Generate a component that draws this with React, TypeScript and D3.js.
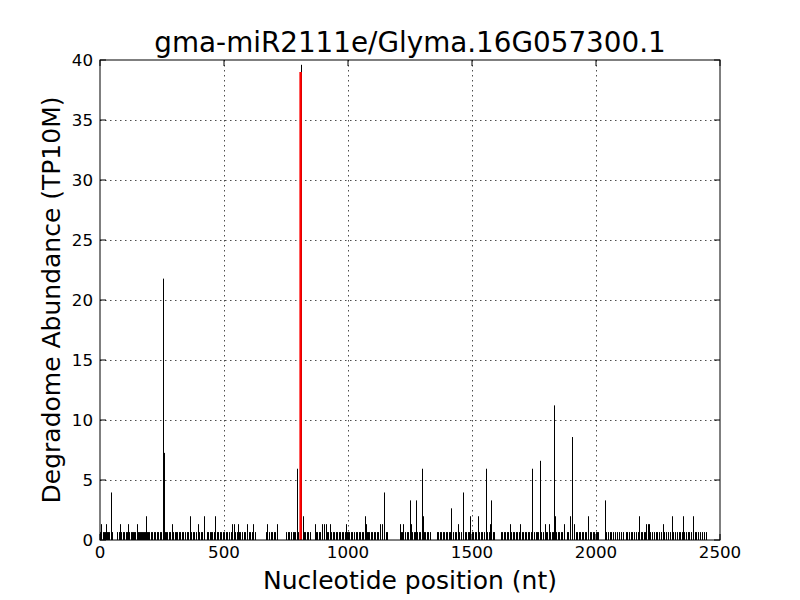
import React from "react";
import * as d3 from "d3";

const WIDTH = 800;
const HEIGHT = 600;
const MARGIN = { top: 60, right: 80, bottom: 60, left: 100 };

const TITLE = "gma-miR2111e/Glyma.16G057300.1";
const X_LABEL = "Nucleotide position (nt)";
const Y_LABEL = "Degradome Abundance (TP10M)";
const X_TICKS = [0, 500, 1000, 1500, 2000, 2500];
const Y_TICKS = [0, 5, 10, 15, 20, 25, 30, 35, 40];

// positions read at the lowest level (0.66 TP10M)
const BASE_VALUE = 0.66;
const basePositions = [
  2, 6, 11, 15, 19, 24, 28, 33, 38, 46, 50,
  70, 76, 81, 86, 93, 98, 103, 108, 118, 124, 129, 134, 139, 143, 148, 152, 157, 161, 165, 169,
  173, 177, 181, 188, 192, 198, 205, 211, 216, 222, 228, 234, 240, 246,
  262, 267, 272, 278, 284, 296, 301, 306, 312, 318, 324, 330, 336, 343, 349, 356, 368, 374, 380, 387, 399,
  407, 413, 430, 436, 442, 448, 453, 458, 470, 476, 482, 488, 494, 500,
  508, 514, 520, 527, 546, 552, 559, 566, 573, 580, 586, 600, 606, 613, 625,
  668, 682, 688, 694, 700, 706,
  752, 758, 764, 770, 777, 783, 788, 800, 805, 823, 828, 834, 840, 846,
  870, 876, 882, 888, 914, 920, 932, 938, 944, 950, 956, 962, 968, 975, 981, 987, 994, 1000,
  1006, 1012, 1018, 1025, 1031, 1037, 1043, 1050, 1056, 1062,
  1075, 1080, 1086, 1092, 1098, 1104, 1110, 1116, 1122, 1152, 1158,
  1208, 1213, 1218, 1230, 1236, 1242, 1260, 1265, 1270, 1279, 1285, 1292, 1306, 1312, 1318, 1324, 1330,
  1358, 1364, 1370, 1376, 1382, 1388, 1394, 1400, 1406, 1412, 1425, 1431, 1437, 1449, 1455,
  1470, 1476, 1482, 1488, 1500, 1506, 1512, 1518, 1530, 1536, 1542, 1548, 1562, 1568, 1584, 1590,
  1616, 1622, 1628, 1634, 1640, 1646, 1658, 1664, 1670, 1676, 1682,
  1688, 1700, 1706, 1712, 1718, 1724, 1730, 1736, 1752, 1758, 1764, 1768, 1780, 1786,
  1800, 1804, 1816, 1822, 1826, 1840, 1846, 1852, 1858, 1864, 1882, 1888, 1918, 1924,
  1930, 1936, 1942, 1948, 1954, 1960, 1974, 1980, 1986, 1992, 1998, 2004, 2010,
  2042, 2048, 2056, 2062, 2070, 2078, 2086, 2094, 2102, 2110, 2120, 2126, 2132, 2140, 2146, 2154, 2160, 2168,
  2180, 2186, 2192, 2198, 2218, 2224, 2232, 2240, 2246, 2254, 2262, 2276, 2284, 2290, 2298,
  2312, 2318, 2326, 2334, 2340, 2346, 2356, 2362, 2370, 2376, 2384, 2398, 2404, 2412, 2420, 2428, 2436, 2442,
];

// taller peaks
const peakPositions = [
  4, 25, 44, 79, 113, 150, 185, 254, 258, 290, 363, 395, 419, 464, 532, 540, 556, 593, 617,
  673, 714, 794, 811, 819, 867, 895, 903, 911, 927, 990, 1068, 1072, 1129, 1137, 1145,
  1210, 1222, 1250, 1254, 1274, 1298, 1302, 1416, 1444, 1464, 1492, 1524, 1556, 1573, 1577,
  1653, 1694, 1742, 1774, 1794, 1810, 1831, 1835, 1871, 1895, 1903, 1911, 1968, 2036,
  2173, 2202, 2210, 2214, 2270, 2306, 2351, 2391,
];
const peakValues = [
  1.32, 1.32, 3.96, 1.32, 1.32, 1.32, 1.98, 21.78, 7.26, 1.32, 1.98, 1.32, 1.98, 1.98, 1.32, 1.32, 1.32, 1.32, 1.32,
  1.32, 1.32, 5.94, 39.6, 1.98, 1.32, 1.32, 1.32, 1.32, 1.32, 1.32, 1.98, 1.32, 1.32, 1.32, 3.96,
  1.32, 1.32, 3.3, 1.32, 3.3, 5.94, 1.98, 2.64, 1.32, 3.96, 1.98, 1.98, 5.94, 1.32, 3.3,
  1.32, 1.32, 5.94, 6.6, 1.32, 1.32, 11.22, 1.98, 1.32, 1.98, 8.58, 1.32, 1.98, 3.3,
  1.98, 1.32, 1.32, 1.32, 1.32, 1.98, 1.98, 1.98,
];

// cleavage site (red)
const targetPosition = 809;
const targetValue = 39;

export default function App() {
  const boundsWidth = WIDTH - MARGIN.left - MARGIN.right;
  const boundsHeight = HEIGHT - MARGIN.top - MARGIN.bottom;

  const xScale = d3.scaleLinear().domain([0, 2500]).range([0, boundsWidth]);
  const yScale = d3.scaleLinear().domain([0, 40]).range([boundsHeight, 0]);

  const snap = (v: number) => Math.round(v) + 0.5;

  const baseLines = basePositions.map((p, i) => (
    <line
      key={"b" + i}
      x1={snap(xScale(p))}
      x2={snap(xScale(p))}
      y1={yScale(0)}
      y2={yScale(BASE_VALUE)}
      stroke="black"
      strokeWidth={1}
    />
  ));

  const peakLines = peakPositions.map((p, i) => (
    <line
      key={"p" + i}
      x1={snap(xScale(p))}
      x2={snap(xScale(p))}
      y1={yScale(0)}
      y2={yScale(peakValues[i])}
      stroke="black"
      strokeWidth={1}
    />
  ));

  const tickLen = 6;
  const font = "'DejaVu Sans', sans-serif";

  return (
    <svg
      width={WIDTH}
      height={HEIGHT}
      style={{ position: "absolute", left: 0, top: 0, display: "block", background: "white" }}
      fontFamily={font}
    >
      <rect x={0} y={0} width={WIDTH} height={HEIGHT} fill="white" />
      <text x={410} y={52} textAnchor="middle" fontSize={27.8}>
        {TITLE}
      </text>
      <g transform={`translate(${MARGIN.left},${MARGIN.top})`}>
        {/* grid */}
        {X_TICKS.slice(1, -1).map((t) => (
          <line
            key={"gx" + t}
            x1={snap(xScale(t))}
            x2={snap(xScale(t))}
            y1={0}
            y2={boundsHeight}
            stroke="black"
            strokeWidth={0.7}
            strokeDasharray="1.5,3.5"
          />
        ))}
        {Y_TICKS.slice(1, -1).map((t) => (
          <line
            key={"gy" + t}
            x1={0}
            x2={boundsWidth}
            y1={yScale(t) + 0.5}
            y2={yScale(t) + 0.5}
            stroke="black"
            strokeWidth={0.7}
            strokeDasharray="1.5,3.5"
          />
        ))}

        {baseLines}
        {peakLines}
        <line
          x1={xScale(targetPosition)}
          x2={xScale(targetPosition)}
          y1={yScale(0)}
          y2={yScale(targetValue)}
          stroke="#ff0000"
          strokeWidth={2.5}
        />

        {/* ticks */}
        {X_TICKS.map((t) => (
          <g key={"tx" + t}>
            <line x1={xScale(t)} x2={xScale(t)} y1={boundsHeight} y2={boundsHeight - tickLen} stroke="black" />
            <line x1={xScale(t)} x2={xScale(t)} y1={0} y2={tickLen} stroke="black" />
            <text x={xScale(t)} y={boundsHeight + 18} textAnchor="middle" fontSize={16.7}>
              {t}
            </text>
          </g>
        ))}
        {Y_TICKS.map((t) => (
          <g key={"ty" + t}>
            <line x1={0} x2={tickLen} y1={yScale(t)} y2={yScale(t)} stroke="black" />
            <line x1={boundsWidth} x2={boundsWidth - tickLen} y1={yScale(t)} y2={yScale(t)} stroke="black" />
            <text x={-7} y={yScale(t) + 6} textAnchor="end" fontSize={16.7}>
              {t}
            </text>
          </g>
        ))}

        <rect x={0} y={0} width={boundsWidth} height={boundsHeight} fill="none" stroke="black" strokeWidth={1} />
      </g>

      <text x={410} y={589} textAnchor="middle" fontSize={25}>
        {X_LABEL}
      </text>
      <text transform={`translate(60,300) rotate(-90)`} textAnchor="middle" fontSize={25}>
        {Y_LABEL}
      </text>
    </svg>
  );
}
